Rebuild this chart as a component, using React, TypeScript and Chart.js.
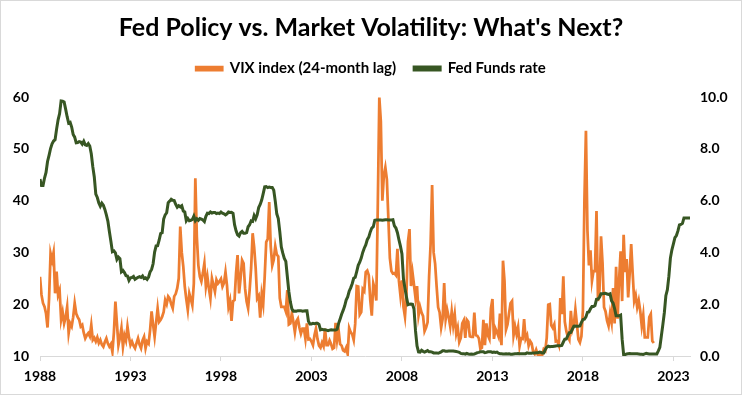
import React, { useEffect, useRef } from 'react';
import { Chart, registerables, layouts } from 'chart.js';

Chart.register(...registerables);

const chartTitle = "Fed Policy vs. Market Volatility: What's Next?";
const vixLabel = 'VIX index (24-month lag)';
const fedLabel = 'Fed Funds rate';
const startYear = 1988;
const xTickYears = [1988, 1993, 1998, 2003, 2008, 2013, 2018, 2023];

// VIX monthly values, plotted 24 months earlier (Jan 1988 ... Dec 2021)
const vixLagged = [
  25.3, 21.8, 20.2, 19.5, 18.2, 15.5, 21.0, 29.8, 28.5, 30.0, 22.1, 26.3,
  21.8, 22.7, 17.0, 18.5, 16.3, 17.5, 19.5, 14.4, 16.3, 15.7, 17.5, 20.2,
  18.2, 17.5, 17.0, 15.7, 16.0, 14.5, 13.4, 14.0, 14.4, 13.8, 16.0, 13.1,
  13.5, 12.8, 13.6, 12.5, 13.1, 12.2, 11.8, 12.7, 13.4, 12.4, 11.8, 12.3,
  10.8, 14.5, 20.5, 16.3, 12.1, 13.5, 15.4, 11.8, 14.0, 13.0, 15.7, 13.6,
  12.1, 12.8, 12.0, 11.5, 12.5, 13.4, 12.2, 11.5, 13.0, 13.7, 11.5, 12.8,
  12.4, 15.0, 18.6, 16.0, 13.7, 16.5, 19.2, 16.6, 17.0, 17.6, 18.5, 20.8,
  20.0, 21.5, 21.1, 20.0, 19.2, 21.5, 22.0, 23.1, 25.0, 35.0, 30.0, 27.3,
  23.4, 21.0, 18.9, 22.1, 21.0, 19.8, 24.0, 44.3, 33.0, 27.5, 25.3, 24.4,
  26.0, 27.9, 23.4, 25.3, 23.0, 21.1, 25.0, 23.7, 22.4, 24.7, 24.0, 24.4,
  24.9, 23.4, 24.1, 26.2, 23.6, 19.5, 20.7, 16.8, 20.6, 20.8, 26.0, 29.5,
  22.1, 25.0, 28.5, 27.9, 23.0, 20.5, 19.2, 22.7, 27.0, 33.7, 31.0, 27.0,
  21.1, 21.6, 17.4, 21.9, 20.0, 25.4, 32.0, 32.6, 39.7, 31.1, 27.5, 28.6,
  31.2, 29.6, 29.2, 21.2, 19.5, 19.5, 19.5, 18.6, 22.7, 16.1, 16.3, 18.3,
  16.6, 14.6, 16.7, 17.2, 15.5, 14.3, 15.3, 15.3, 13.3, 16.3, 13.2, 13.3,
  12.8, 12.1, 14.0, 15.3, 13.3, 12.0, 11.6, 12.6, 11.9, 15.3, 12.1, 12.1,
  13.0, 12.3, 11.4, 11.6, 16.4, 13.1, 15.0, 12.3, 12.0, 11.1, 10.9, 11.6,
  10.4, 15.4, 14.6, 14.2, 13.1, 16.2, 23.5, 23.4, 18.0, 18.5, 22.9, 22.5,
  26.2, 26.5, 25.6, 20.8, 17.8, 24.0, 22.9, 20.7, 39.4, 59.9, 55.3, 40.0,
  44.8, 46.4, 44.1, 36.5, 28.9, 26.4, 25.9, 26.0, 25.6, 30.7, 24.5, 21.7,
  24.6, 19.5, 17.6, 22.1, 32.1, 34.5, 23.5, 26.1, 23.7, 21.2, 23.5, 17.8,
  19.5, 18.4, 17.7, 14.8, 15.5, 16.5, 25.3, 31.6, 43.0, 30.0, 27.8, 23.4,
  19.4, 18.4, 15.5, 17.2, 24.1, 17.1, 18.9, 17.5, 15.7, 18.6, 15.9, 18.0,
  14.3, 15.5, 12.7, 13.5, 16.3, 16.9, 13.5, 17.0, 16.6, 13.8, 13.7, 13.7,
  18.4, 14.0, 13.9, 13.4, 11.4, 11.6, 17.0, 12.1, 16.3, 14.0, 13.3, 19.2,
  21.0, 13.3, 15.3, 14.6, 13.8, 18.2, 12.1, 28.4, 24.5, 15.1, 16.1, 18.2,
  20.2, 20.6, 14.0, 15.7, 14.2, 15.6, 11.9, 13.4, 13.3, 17.1, 13.3, 14.0,
  12.0, 12.9, 12.4, 10.8, 10.4, 11.2, 10.3, 10.6, 9.5, 10.2, 11.3, 11.0,
  13.5, 19.9, 20.0, 15.9, 15.4, 16.1, 12.8, 12.9, 12.1, 21.2, 18.1, 25.4,
  16.6, 14.8, 13.7, 13.1, 18.7, 15.1, 16.1, 19.0, 16.2, 13.2, 12.6, 13.8,
  18.8, 40.1, 53.5, 34.2, 27.5, 30.4, 24.5, 26.4, 26.4, 38.0, 20.6, 22.8,
  33.1, 28.0, 19.4, 18.6, 16.8, 15.8, 18.2, 16.5, 23.1, 16.3, 27.2, 17.2,
  24.8, 30.2, 20.6, 33.4, 26.2, 28.7, 21.3, 25.9, 31.6, 25.9, 20.6, 21.7,
  19.4, 20.7, 18.7, 15.8, 17.9, 13.6, 13.6, 13.6, 17.5, 18.1, 12.9, 12.5,
];

// Fed Funds effective rate, monthly (Jan 1988 ... Dec 2023)
const fedFunds = [
  6.83, 6.58, 6.58, 6.87, 7.09, 7.51, 7.75, 8.01, 8.19, 8.30, 8.35, 8.76,
  9.12, 9.36, 9.85, 9.84, 9.81, 9.53, 9.24, 8.99, 9.02, 8.84, 8.55, 8.45,
  8.23, 8.24, 8.28, 8.26, 8.18, 8.29, 8.15, 8.13, 8.20, 8.11, 7.81, 7.31,
  6.91, 6.25, 6.12, 5.91, 5.78, 5.90, 5.82, 5.66, 5.45, 5.21, 4.81, 4.43,
  4.03, 4.06, 3.98, 3.73, 3.82, 3.76, 3.25, 3.30, 3.22, 3.10, 3.09, 2.92,
  3.02, 3.03, 3.07, 2.96, 3.00, 3.04, 3.06, 3.03, 3.09, 2.99, 3.02, 2.96,
  3.05, 3.25, 3.34, 3.56, 4.01, 4.25, 4.26, 4.47, 4.73, 4.76, 5.29, 5.45,
  5.53, 5.92, 5.98, 6.05, 6.01, 6.00, 5.85, 5.74, 5.80, 5.76, 5.80, 5.60,
  5.56, 5.22, 5.31, 5.22, 5.24, 5.27, 5.40, 5.22, 5.30, 5.24, 5.31, 5.29,
  5.25, 5.19, 5.39, 5.51, 5.50, 5.56, 5.52, 5.54, 5.54, 5.50, 5.52, 5.50,
  5.56, 5.51, 5.49, 5.45, 5.49, 5.56, 5.54, 5.55, 5.51, 5.07, 4.83, 4.68,
  4.63, 4.76, 4.81, 4.74, 4.74, 4.76, 4.99, 5.07, 5.22, 5.20, 5.42, 5.30,
  5.45, 5.73, 5.85, 6.02, 6.27, 6.53, 6.54, 6.50, 6.52, 6.51, 6.51, 6.40,
  5.98, 5.49, 5.31, 4.80, 4.21, 3.97, 3.77, 3.65, 3.07, 2.49, 2.09, 1.82,
  1.73, 1.74, 1.73, 1.75, 1.75, 1.75, 1.73, 1.74, 1.75, 1.75, 1.34, 1.24,
  1.24, 1.26, 1.25, 1.26, 1.26, 1.22, 1.01, 1.03, 1.01, 1.01, 1.00, 0.98,
  1.00, 1.01, 1.00, 1.00, 1.00, 1.03, 1.26, 1.43, 1.61, 1.76, 1.93, 2.16,
  2.28, 2.50, 2.63, 2.79, 3.00, 3.04, 3.26, 3.50, 3.62, 3.78, 4.00, 4.16,
  4.29, 4.49, 4.59, 4.79, 4.94, 4.99, 5.24, 5.25, 5.25, 5.25, 5.25, 5.24,
  5.25, 5.26, 5.26, 5.25, 5.25, 5.25, 5.26, 5.02, 4.94, 4.76, 4.49, 4.24,
  3.94, 2.98, 2.61, 2.28, 1.98, 2.00, 2.01, 2.00, 1.81, 0.97, 0.39, 0.16,
  0.15, 0.22, 0.18, 0.15, 0.18, 0.21, 0.16, 0.16, 0.15, 0.12, 0.12, 0.12,
  0.11, 0.13, 0.16, 0.20, 0.20, 0.18, 0.18, 0.19, 0.19, 0.19, 0.19, 0.18,
  0.17, 0.16, 0.14, 0.10, 0.09, 0.09, 0.07, 0.10, 0.08, 0.07, 0.08, 0.07,
  0.08, 0.10, 0.13, 0.14, 0.16, 0.16, 0.16, 0.13, 0.14, 0.16, 0.16, 0.16,
  0.14, 0.15, 0.14, 0.15, 0.11, 0.09, 0.09, 0.08, 0.08, 0.09, 0.08, 0.09,
  0.07, 0.07, 0.08, 0.09, 0.09, 0.10, 0.09, 0.09, 0.09, 0.09, 0.09, 0.12,
  0.11, 0.11, 0.11, 0.12, 0.12, 0.13, 0.13, 0.14, 0.14, 0.12, 0.12, 0.24,
  0.34, 0.38, 0.36, 0.37, 0.37, 0.38, 0.39, 0.40, 0.40, 0.40, 0.41, 0.54,
  0.65, 0.66, 0.79, 0.90, 0.91, 1.04, 1.15, 1.16, 1.15, 1.15, 1.16, 1.30,
  1.41, 1.42, 1.51, 1.69, 1.70, 1.82, 1.91, 1.91, 1.95, 2.19, 2.20, 2.27,
  2.40, 2.40, 2.41, 2.42, 2.39, 2.38, 2.40, 2.13, 2.04, 1.83, 1.55, 1.55,
  1.55, 1.58, 0.65, 0.05, 0.05, 0.08, 0.09, 0.10, 0.09, 0.09, 0.09, 0.09,
  0.09, 0.08, 0.07, 0.07, 0.06, 0.08, 0.10, 0.09, 0.08, 0.08, 0.08, 0.08,
  0.08, 0.08, 0.20, 0.33, 0.77, 1.21, 1.68, 2.33, 2.56, 3.08, 3.78, 4.10,
  4.33, 4.57, 4.65, 4.83, 5.06, 5.08, 5.12, 5.33, 5.33, 5.33, 5.33, 5.33,
];

const FONT = 'Lato, "Open Sans", Arial, sans-serif';

export default function App() {
  const ref = useRef<HTMLCanvasElement>(null);

  useEffect(() => {
    const toPoints = (arr: number[]) =>
      arr.map((v, i) => ({ x: startYear + i / 12, y: v }));

    const framePlugin = {
      id: 'frame',
      afterDraw(chart: any) {
        const { ctx, width, height } = chart;
        ctx.save();
        ctx.strokeStyle = '#d9d9d9';
        ctx.lineWidth = 1;
        ctx.strokeRect(0.5, 0.5, width - 1, height - 1);
        ctx.restore();
      },
    };

    // empty box between the legend and the plot area
    const spacerPlugin = {
      id: 'legendSpacer',
      beforeInit(chart: any) {
        const box: any = {
          position: 'top',
          weight: 0,
          fullSize: true,
          options: {},
          width: 0,
          height: 0,
          left: 0,
          top: 0,
          right: 0,
          bottom: 0,
          isHorizontal() {
            return true;
          },
          getPadding() {
            return { left: 0, right: 0, top: 0, bottom: 0 };
          },
          update(maxWidth: number) {
            this.width = maxWidth;
            this.height = 11;
          },
          draw() {},
        };
        layouts.addBox(chart, box);
      },
    };

    const tickFont = { family: FONT, size: 14, weight: 'bold' as const };

    const chart = new Chart(ref.current as HTMLCanvasElement, {
      type: 'line',
      data: {
        datasets: [
          {
            label: vixLabel,
            data: toPoints(vixLagged),
            borderColor: '#ED7D31',
            backgroundColor: '#ED7D31',
            borderWidth: 2.75,
            pointRadius: 0,
            yAxisID: 'y',
            order: 1,
          },
          {
            label: fedLabel,
            data: toPoints(fedFunds),
            borderColor: '#375623',
            backgroundColor: '#375623',
            borderWidth: 3,
            pointRadius: 0,
            yAxisID: 'y1',
            order: 0,
          },
        ],
      },
      options: {
        responsive: false,
        animation: false,
        events: [],
        layout: { padding: { left: 0, right: 0, top: 0, bottom: 0 } },
        plugins: {
          title: {
            display: true,
            text: chartTitle,
            color: '#000',
            font: { family: FONT, size: 25, weight: 'bold', lineHeight: 1.2 },
            padding: { top: 13, bottom: 0 },
          },
          legend: {
            display: true,
            labels: {
              color: '#000',
              font: { family: FONT, size: 15, weight: 'bold' },
              boxWidth: 26,
              boxHeight: 3,
              padding: 18,
              sort: (a: any, b: any) => a.datasetIndex - b.datasetIndex,
            },
          },
          tooltip: { enabled: false },
        },
        scales: {
          x: {
            type: 'linear',
            min: startYear,
            max: startYear + (fedFunds.length - 1) / 12,
            afterBuildTicks: (s: any) => {
              s.ticks = xTickYears.map((v) => ({ value: v }));
            },
            afterFit: (s: any) => {
              s.height = 39;
            },
            ticks: {
              font: tickFont,
              color: '#000',
              padding: 7,
              maxRotation: 0,
              autoSkip: false,
              callback: (v: any) => String(v),
            },
            grid: {
              display: true,
              drawOnChartArea: false,
              drawTicks: true,
              tickLength: 5,
              color: '#d9d9d9',
            },
            border: { display: true, color: '#d9d9d9' },
          },
          y: {
            position: 'left',
            min: 10,
            max: 60,
            afterFit: (s: any) => {
              s.width = 40;
            },
            ticks: { stepSize: 10, font: tickFont, color: '#000', padding: 11 },
            grid: { display: false, drawTicks: false },
            border: { display: false },
          },
          y1: {
            position: 'right',
            min: 0,
            max: 10,
            afterFit: (s: any) => {
              s.width = 52;
            },
            ticks: {
              stepSize: 2,
              font: tickFont,
              color: '#000',
              padding: 10,
              callback: (v: any) => Number(v).toFixed(1),
            },
            grid: { display: false, drawTicks: false },
            border: { display: false },
          },
        },
      },
      plugins: [framePlugin, spacerPlugin],
    });

    return () => chart.destroy();
  }, []);

  return (
    <div
      style={{
        position: 'fixed',
        left: 0,
        top: 0,
        width: 742,
        height: 395,
        background: '#fff',
      }}
    >
      <canvas ref={ref} width={742} height={395} style={{ display: 'block' }} />
    </div>
  );
}
